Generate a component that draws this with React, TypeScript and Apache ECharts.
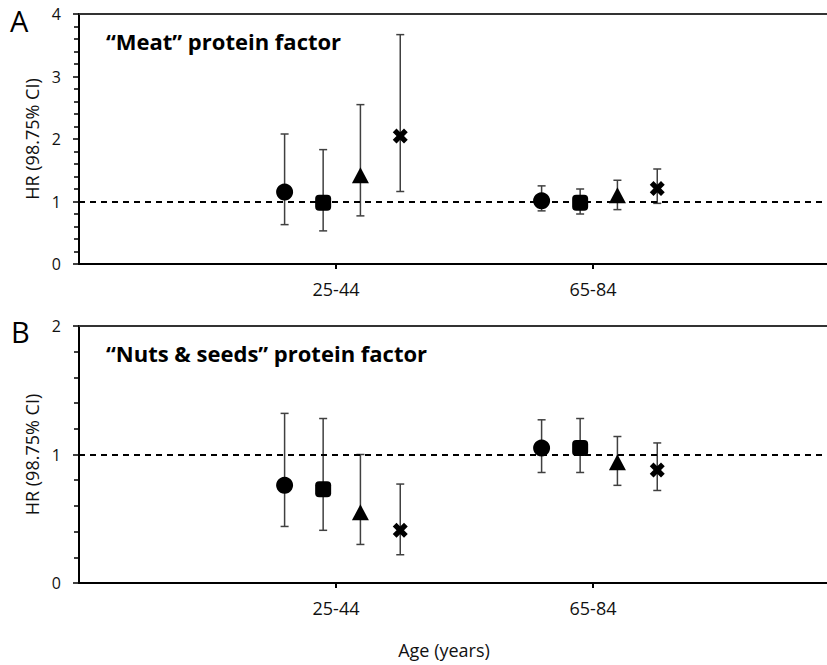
import React, { useEffect, useRef } from "react";
import * as echarts from "echarts";

// Age groups (x-axis tick labels at positions 1 and 2)
const ageGroups = ["25-44", "65-84"];
// Marker order within each age group
const markerNames = ["circle", "square", "triangle", "cross"];

// Panel A: "Meat" protein factor — order: 25-44 (circle, square, triangle, cross), 65-84 (same)
const meatHR = [1.15, 0.98, 1.42, 2.05, 1.01, 0.98, 1.1, 1.21];
const meatLow = [0.63, 0.53, 0.77, 1.16, 0.85, 0.8, 0.87, 0.97];
const meatHigh = [2.08, 1.83, 2.55, 3.67, 1.25, 1.2, 1.34, 1.52];

// Panel B: "Nuts & seeds" protein factor
const nutsHR = [0.76, 0.73, 0.55, 0.41, 1.05, 1.05, 0.94, 0.88];
const nutsLow = [0.44, 0.41, 0.3, 0.22, 0.86, 0.86, 0.76, 0.72];
const nutsHigh = [1.32, 1.28, 1.0, 0.77, 1.27, 1.28, 1.14, 1.09];

const yTicksA = [0, 1, 2, 3, 4];
const yTicksB = [0, 1, 2];

// horizontal offsets of markers around each age-group tick (layout)
const markerOffsets = [-0.2, -0.05, 0.095, 0.25];

const FONT = "'Open Sans', 'Noto Sans', sans-serif";
const CROSS =
  "path://M0,3 L3,0 L6,3 L9,0 L12,3 L9,6 L12,9 L9,12 L6,9 L3,12 L0,9 L3,6 Z";
const symbols = ["circle", "roundRect", "triangle", CROSS];
const symbolSizes = [17, 16, [17, 16], 15];

function buildPanel(
  idx: number,
  hr: number[],
  low: number[],
  high: number[]
) {
  const series: any[] = [];
  const errData: number[][] = [];
  hr.forEach((_, i) => {
    const g = Math.floor(i / 4);
    const m = i % 4;
    errData.push([g + 1 + markerOffsets[m], low[i], high[i]]);
  });
  series.push({
    type: "custom",
    name: "ci" + idx,
    xAxisIndex: idx,
    yAxisIndex: idx,
    z: 2,
    encode: { x: 0, y: [1, 2] },
    data: errData,
    renderItem: (params: any, api: any) => {
      const x = api.value(0);
      const lo = api.coord([x, api.value(1)]);
      const hi = api.coord([x, api.value(2)]);
      const cap = 4;
      const style = { stroke: "#404040", lineWidth: 1.5 };
      return {
        type: "group",
        children: [
          { type: "line", shape: { x1: lo[0], y1: lo[1], x2: hi[0], y2: hi[1] }, style },
          { type: "line", shape: { x1: lo[0] - cap, y1: lo[1], x2: lo[0] + cap, y2: lo[1] }, style },
          { type: "line", shape: { x1: hi[0] - cap, y1: hi[1], x2: hi[0] + cap, y2: hi[1] }, style },
        ],
      };
    },
    markLine: {
      silent: true,
      symbol: "none",
      label: { show: false },
      lineStyle: { color: "#000", width: 2, type: [6, 5] },
      data: [{ yAxis: 1 }],
    },
  });
  markerNames.forEach((name, m) => {
    const data = ageGroups.map((_, g) => [g + 1 + markerOffsets[m], hr[g * 4 + m]]);
    series.push({
      type: "scatter",
      name: name + idx,
      xAxisIndex: idx,
      yAxisIndex: idx,
      z: 5,
      symbol: symbols[m],
      symbolSize: symbolSizes[m],
      itemStyle: { color: "#000", opacity: 1 },
      data,
    });
  });
  return series;
}

export default function App() {
  const ref = useRef<HTMLDivElement>(null);
  useEffect(() => {
    if (!ref.current) return;
    const chart = echarts.init(ref.current, null, { renderer: "svg" });
    const plotWidth = 748;
    const grids = [
      { left: 79, top: 14, width: plotWidth, height: 250 },
      { left: 79, top: 326, width: plotWidth, height: 257 },
    ];
    const xMax = plotWidth / 257;
    const xAxisBase = (gridIndex: number) => ({
      type: "value",
      gridIndex,
      min: 0,
      max: xMax,
      interval: 1,
      splitLine: { show: false },
      axisLine: { show: true, onZero: false, lineStyle: { color: "#000", width: 2 } },
      axisTick: { show: true, length: 5, lineStyle: { color: "#000", width: 2 } },
      axisLabel: {
        fontSize: 18,
        fontFamily: FONT,
        color: "#111",
        margin: 16,
        showMinLabel: false,
        showMaxLabel: false,
        formatter: (v: number) => {
          const r = Math.round(v);
          if (Math.abs(v - r) < 1e-6 && r >= 1 && r <= ageGroups.length) return ageGroups[r - 1];
          return "";
        },
      },
    });
    const xAxisTop = (gridIndex: number) => ({
      type: "value",
      gridIndex,
      position: "top",
      min: 0,
      max: xMax,
      splitLine: { show: false },
      axisLine: { show: true, onZero: false, lineStyle: { color: "#333", width: 2 } },
      axisTick: { show: false },
      axisLabel: { show: false },
    });
    const yAxis = (gridIndex: number, ticks: number[]) => ({
      type: "value",
      gridIndex,
      min: ticks[0],
      max: ticks[ticks.length - 1],
      interval: 1,
      name: "HR (98.75% CI)",
      nameLocation: "middle",
      nameGap: 32,
      nameTextStyle: { fontSize: 18, fontFamily: FONT, color: "#111" },
      splitLine: { show: false },
      axisLine: { show: true, lineStyle: { color: "#000", width: 2 } },
      axisTick: { show: true, length: 6, lineStyle: { color: "#000", width: 1.5 } },
      minorTick: { show: true, splitNumber: 5, length: 5, lineStyle: { color: "#000", width: 1.5 } },
      axisLabel: { fontSize: 16, fontFamily: FONT, color: "#111", margin: 18 },
    });
    chart.setOption({
      animation: false,
      backgroundColor: "#fff",
      grid: grids,
      xAxis: [xAxisBase(0), xAxisBase(1), xAxisTop(0), xAxisTop(1)],
      yAxis: [yAxis(0, yTicksA), yAxis(1, yTicksB)],
      series: [
        ...buildPanel(0, meatHR, meatLow, meatHigh),
        ...buildPanel(1, nutsHR, nutsLow, nutsHigh),
      ],
      graphic: [
        { type: "text", left: 10, top: 6, style: { text: "A", fontSize: 29, fontFamily: FONT, fill: "#000" } },
        { type: "text", left: 11, top: 317, style: { text: "B", fontSize: 29, fontFamily: FONT, fill: "#000" } },
        {
          type: "text",
          left: 106,
          top: 30,
          style: { text: "\u201CMeat\u201D protein factor", fontSize: 22, fontWeight: "bold", fontFamily: FONT, fill: "#000" },
        },
        {
          type: "text",
          left: 106,
          top: 342,
          style: { text: "\u201CNuts & seeds\u201D protein factor", fontSize: 22, fontWeight: "bold", fontFamily: FONT, fill: "#000" },
        },
        {
          type: "text",
          x: 444,
          y: 650,
          style: { text: "Age (years)", fontSize: 18, fontFamily: FONT, fill: "#111", align: "center", verticalAlign: "middle" },
        },
      ],
    });
    return () => chart.dispose();
  }, []);
  return (
    <div
      ref={ref}
      style={{ position: "fixed", left: 0, top: 0, width: 827, height: 665, background: "#fff", overflow: "hidden" }}
    />
  );
}
